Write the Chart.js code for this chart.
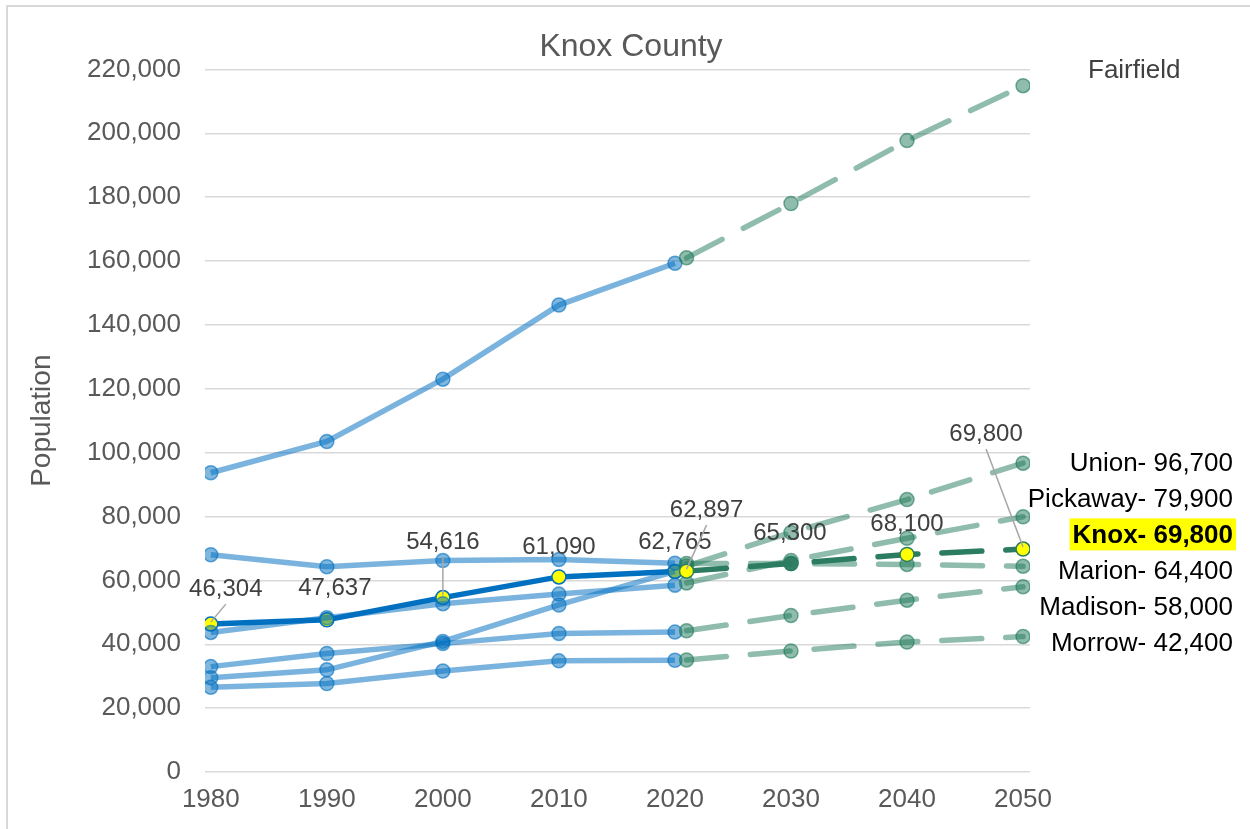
<!DOCTYPE html>
<html>
<head>
<meta charset="utf-8">
<title>Knox County</title>
<script src="https://cdn.jsdelivr.net/npm/chart.js@4.4.0/dist/chart.umd.min.js"></script>
<style>
  html, body { margin: 0; padding: 0; background: #fff; overflow: hidden; }
  #frame { position: absolute; left: 6px; top: 5px; width: 1300px; height: 900px; border: 2px solid #d9d9d9; }
  #myChart { position: absolute; left: 0; top: 0; }
</style>
</head>
<body>
<div id="frame"></div>
<canvas id="myChart" width="1250" height="829"></canvas>
<script>
'use strict';

// years
const histYears = [1980, 1990, 2000, 2010, 2020];
const projYears = [2021, 2030, 2040, 2050];
const tickYears = [1980, 1990, 2000, 2010, 2020, 2030, 2040, 2050];

// census counts and projections, per county
const fairfieldHist = [93700, 103500, 123000, 146200, 159300];
const fairfieldProj = [161000, 178000, 197700, 214900];
const unionHist = [29500, 32000, 40900, 52300, 62800];
const unionProj = [64500, 75000, 85300, 96700];
const pickawayHist = [43700, 48300, 52700, 55700, 58500];
const pickawayProj = [59200, 66200, 73200, 79900];
const marionHist = [68000, 64300, 66200, 66500, 65400];
const marionProj = [65300, 65300, 65000, 64400];
const madisonHist = [33000, 37100, 40200, 43400, 43800];
const madisonProj = [44200, 49000, 53800, 58000];
const morrowHist = [26500, 27700, 31600, 34800, 35000];
const morrowProj = [35100, 37900, 40700, 42400];
const knoxHist = [46304, 47637, 54616, 61090, 62765];
const knoxProj = [62897, 65300, 68100, 69800];

// y ticks
const yMin = 0, yMax = 220000, yStep = 20000;

const otherCounties = [
  ['Fairfield', fairfieldHist, fairfieldProj],
  ['Union', unionHist, unionProj],
  ['Pickaway', pickawayHist, pickawayProj],
  ['Marion', marionHist, marionProj],
  ['Madison', madisonHist, madisonProj],
  ['Morrow', morrowHist, morrowProj]
];

// right side label list, in display order
const sideLabels = [
  ['Union', unionProj],
  ['Pickaway', pickawayProj],
  ['Knox', knoxProj],
  ['Marion', marionProj],
  ['Madison', madisonProj],
  ['Morrow', morrowProj]
];

const FONT = "'Liberation Sans', Arial, Helvetica, sans-serif";
Chart.defaults.font.family = FONT;

const toPoints = (years, values) => years.map((yr, i) => ({ x: yr, y: values[i] }));
const fmt = v => v.toLocaleString('en-US');

const LIGHT_BLUE = 'rgba(0, 112, 192, 0.52)';
const DARK_BLUE = '#0070C0';
const LIGHT_GREEN = 'rgba(31, 122, 90, 0.5)';
const DARK_GREEN = '#2B7C61';
const YELLOW = '#FFFF00';

const datasets = [];

otherCounties.forEach(([name, hist, proj]) => {
  datasets.push({
    label: name + ' projection',
    data: toPoints(projYears, proj),
    borderColor: LIGHT_GREEN,
    borderWidth: 5.5,
    borderDash: [40, 24],
    borderCapStyle: 'round',
    pointRadius: 7,
    pointBackgroundColor: 'rgba(31, 122, 90, 0.5)',
    pointBorderColor: 'rgba(31, 122, 90, 0.6)',
    pointBorderWidth: 1.5,
    order: 3
  });
  datasets.push({
    label: name,
    data: toPoints(histYears, hist),
    borderColor: LIGHT_BLUE,
    borderWidth: 5.5,
    pointRadius: 7,
    pointBackgroundColor: 'rgba(0, 112, 192, 0.5)',
    pointBorderColor: 'rgba(0, 112, 192, 0.6)',
    pointBorderWidth: 1.5,
    order: 4
  });
});

datasets.push({
  label: 'Knox',
  data: toPoints(histYears, knoxHist),
  borderColor: DARK_BLUE,
  borderWidth: 5.5,
  pointRadius: 7,
  pointBackgroundColor: YELLOW,
  pointBorderColor: DARK_BLUE,
  pointBorderWidth: 1.5,
  knoxLabels: 'hist',
  order: 5
});
datasets.push({
  label: 'Knox projection',
  data: toPoints(projYears, knoxProj),
  borderColor: DARK_GREEN,
  borderWidth: 5.5,
  borderDash: [40, 24],
  borderCapStyle: 'round',
  pointRadius: 7,
  pointBackgroundColor: [YELLOW, 'rgba(43, 124, 97, 0.85)', YELLOW, YELLOW],
  pointBorderColor: DARK_GREEN,
  pointBorderWidth: 1.5,
  knoxLabels: 'proj',
  order: 2
});

// label placement for Knox values: [dx, dy, leader line]
const labelPlacement = {
  hist: [[15, -36, true], [8, -32, false], [0, -56, true], [0, -31, false], [0, -30, false]],
  proj: [[20, -62, true], [-1, -31, false], [0, -31, false], [-37, -116, true]]
};

const knoxLabelsPlugin = {
  id: 'knoxLabels',
  afterDatasetsDraw(chart) {
    const ctx = chart.ctx;
    ctx.save();
    ctx.font = '24px ' + FONT;
    ctx.textAlign = 'center';
    ctx.textBaseline = 'middle';
    chart.data.datasets.forEach((ds, di) => {
      if (!ds.knoxLabels) return;
      const meta = chart.getDatasetMeta(di);
      meta.data.forEach((pt, i) => {
        const [dx, dy, leader] = labelPlacement[ds.knoxLabels][i];
        const cx = pt.x + dx, cy = pt.y + dy;
        if (leader) {
          ctx.strokeStyle = '#A6A6A6';
          ctx.lineWidth = 1.5;
          ctx.beginPath();
          ctx.moveTo(cx, cy + 16);
          ctx.lineTo(pt.x, pt.y - 2);
          ctx.stroke();
        }
        ctx.fillStyle = '#404040';
        ctx.fillText(fmt(ds.data[i].y), cx, cy + 1);
      });
    });
    ctx.restore();
  }
};

const sideLabelsPlugin = {
  id: 'sideLabels',
  afterDraw(chart) {
    const ctx = chart.ctx;
    const area = chart.chartArea;
    ctx.save();
    ctx.textBaseline = 'middle';

    ctx.font = '26px ' + FONT;
    ctx.fillStyle = '#404040';
    ctx.textAlign = 'left';
    ctx.fillText('Fairfield', area.right + 58, area.top + 1);

    const rightX = area.right + 203;
    sideLabels.forEach(([name, proj], i) => {
      const y = area.top + 393 + i * 36;
      const text = name + '- ' + fmt(proj[proj.length - 1]);
      ctx.textAlign = 'right';
      if (name === 'Knox') {
        ctx.font = 'bold 26px ' + FONT;
        const w = ctx.measureText(text).width;
        ctx.fillStyle = YELLOW;
        ctx.fillRect(rightX - w - 3, y - 16, w + 6, 32);
      } else {
        ctx.font = '26px ' + FONT;
      }
      ctx.fillStyle = '#000000';
      ctx.fillText(text, rightX, y + 1);
    });
    ctx.restore();
  }
};

const ctx = document.querySelector('#myChart').getContext('2d');
const myChart = new Chart(ctx, {
  type: 'line',
  data: { datasets },
  plugins: [knoxLabelsPlugin, sideLabelsPlugin],
  options: {
    responsive: false,
    animation: false,
    events: [],
    devicePixelRatio: 1,
    layout: { padding: { left: 22, right: 10, top: 12, bottom: 0 } },
    scales: {
      x: {
        type: 'linear',
        min: 1979.5,
        max: 2050.6,
        afterBuildTicks: scale => { scale.ticks = tickYears.map(v => ({ value: v })); },
        afterFit: scale => { scale.height = 57; },
        grid: { display: false, drawTicks: false },
        border: { display: false },
        ticks: {
          padding: 12,
          color: '#595959',
          font: { size: 26 },
          maxRotation: 0,
          autoSkip: false,
          callback: v => String(v)
        }
      },
      y: {
        min: yMin,
        max: yMax,
        afterFit: scale => { scale.width = 183; },
        grid: { color: '#D9D9D9', lineWidth: 1.5, drawTicks: false },
        border: { display: false },
        ticks: {
          stepSize: yStep,
          padding: 24,
          color: '#595959',
          font: { size: 26 },
          callback: v => fmt(v)
        },
        title: {
          display: true,
          text: 'Population',
          color: '#595959',
          font: { size: 28 },
          padding: { top: 3, bottom: 0 }
        }
      },
      yRight: {
        position: 'right',
        afterFit: scale => { scale.width = 210; },
        grid: { display: false, drawTicks: false },
        border: { display: false },
        ticks: { display: false }
      }
    },
    plugins: {
      legend: { display: false },
      tooltip: { enabled: false },
      title: {
        display: true,
        text: 'Knox County',
        color: '#595959',
        font: { size: 32, weight: 'normal' },
        padding: { top: 16, bottom: 3 }
      }
    }
  }
});
</script>
</body>
</html>
